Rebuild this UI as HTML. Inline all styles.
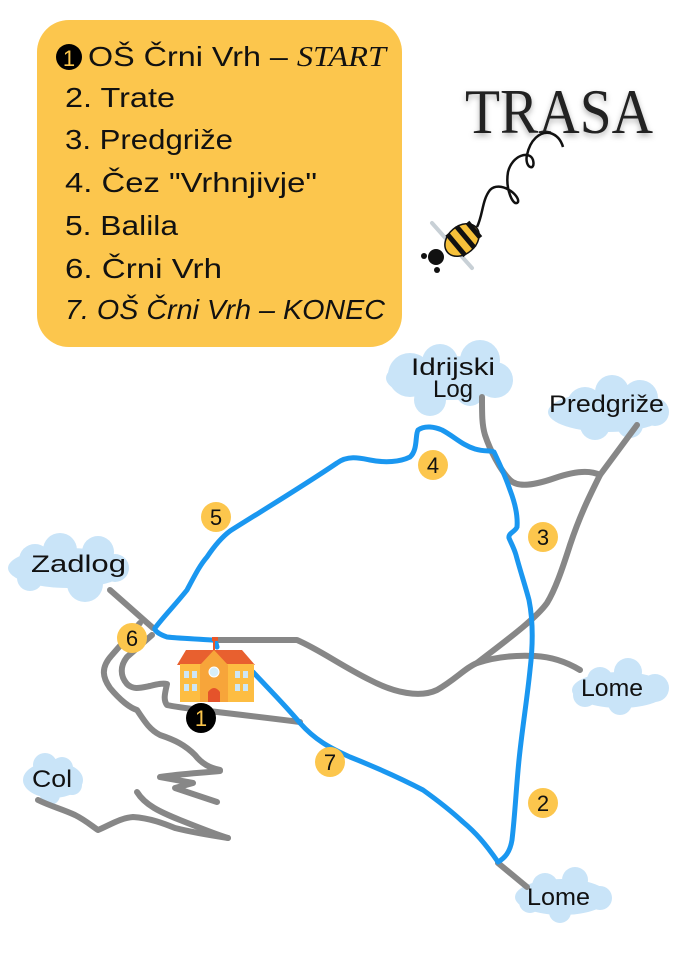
<!DOCTYPE html>
<html><head><meta charset="utf-8"><style>
html,body{margin:0;padding:0;background:#fff;}
svg{display:block;}
</style></head><body>
<svg width="675" height="954" viewBox="0 0 675 954" xmlns="http://www.w3.org/2000/svg">
<!-- legend box -->
<rect x="37" y="20" width="365" height="327" rx="32" fill="#fcc64d"/>
<circle cx="69" cy="57" r="13" fill="#000"/>
<text x="69" y="66" font-family="Liberation Sans, sans-serif" font-size="22" fill="#fcc64d" text-anchor="middle">1</text>
<g font-family="Liberation Sans, sans-serif" font-size="28" fill="#111">
<text x="88" y="66" textLength="298" lengthAdjust="spacingAndGlyphs">OŠ Črni Vrh – <tspan font-style="italic" font-family="Liberation Serif, serif">START</tspan></text>
<text x="65" y="107" textLength="110" lengthAdjust="spacingAndGlyphs">2. Trate</text>
<text x="65" y="149" textLength="168" lengthAdjust="spacingAndGlyphs">3. Predgriže</text>
<text x="65" y="192" textLength="252" lengthAdjust="spacingAndGlyphs">4. Čez "Vrhnjivje"</text>
<text x="65" y="235" textLength="113" lengthAdjust="spacingAndGlyphs">5. Balila</text>
<text x="65" y="278" textLength="157" lengthAdjust="spacingAndGlyphs">6. Črni Vrh</text>
<text x="65" y="319" textLength="320" lengthAdjust="spacingAndGlyphs" font-style="italic">7. OŠ Črni Vrh – KONEC</text>
</g>
<!-- TRASA -->
<text x="465" y="133" font-family="'Liberation Serif', serif" font-size="64" fill="#222" textLength="188" lengthAdjust="spacingAndGlyphs" style="filter:drop-shadow(0 3px 3px rgba(0,0,0,0.3))">TRASA</text>
<!-- bee -->
<path d="M477,227 C483,215 482,200 490,190 C500,180 520,195 518,202 C514,208 505,190 508,172 C512,155 530,150 533,160 C536,172 524,168 527,155 C530,140 540,131 550,133 C557,135 561,140 563,147" fill="none" stroke="#111" stroke-width="2.5"/>
<line x1="432" y1="223" x2="472" y2="268" stroke="#c8d0d6" stroke-width="4" stroke-linecap="round"/>
<g transform="translate(462,240) rotate(-40)">
<ellipse cx="0" cy="0" rx="19" ry="14" fill="#f7c13a" stroke="#111" stroke-width="1.5"/>
<rect x="-10" y="-14" width="5" height="28" fill="#111"/>
<rect x="2" y="-14" width="5" height="28" fill="#111"/>
<rect x="13" y="-10" width="5" height="20" fill="#111"/>
</g>
<circle cx="436" cy="257" r="8" fill="#111"/>
<circle cx="424" cy="256" r="3" fill="#111"/>
<circle cx="437" cy="270" r="3" fill="#111"/>
<!-- clouds -->
<g fill="#c9e4f8">
<g><ellipse cx="448" cy="378" rx="62" ry="22"/><circle cx="410" cy="375" r="22"/><circle cx="440" cy="362" r="18"/><circle cx="480" cy="360" r="20"/><circle cx="495" cy="380" r="18"/><circle cx="430" cy="400" r="16"/><circle cx="470" cy="392" r="14"/></g>
<g><ellipse cx="608" cy="412" rx="60" ry="20"/><circle cx="585" cy="405" r="18"/><circle cx="612" cy="392" r="17"/><circle cx="640" cy="398" r="18"/><circle cx="655" cy="412" r="14"/><circle cx="595" cy="425" r="15"/><circle cx="630" cy="425" r="13"/></g>
<g><ellipse cx="68" cy="568" rx="60" ry="20"/><circle cx="35" cy="560" r="16"/><circle cx="60" cy="550" r="17"/><circle cx="98" cy="552" r="16"/><circle cx="115" cy="568" r="14"/><circle cx="85" cy="584" r="18"/><circle cx="30" cy="578" r="13"/></g>
<g><ellipse cx="620" cy="690" rx="48" ry="18"/><circle cx="600" cy="680" r="13"/><circle cx="628" cy="672" r="14"/><circle cx="655" cy="688" r="14"/><circle cx="620" cy="703" r="12"/><circle cx="585" cy="695" r="12"/></g>
<g><ellipse cx="53" cy="780" rx="30" ry="18"/><circle cx="45" cy="765" r="12"/><circle cx="62" cy="768" r="11"/><circle cx="72" cy="785" r="10"/><circle cx="50" cy="795" r="10"/></g>
<g><ellipse cx="562" cy="897" rx="47" ry="18"/><circle cx="545" cy="886" r="13"/><circle cx="575" cy="880" r="13"/><circle cx="600" cy="898" r="12"/><circle cx="560" cy="912" r="11"/><circle cx="530" cy="902" r="11"/></g>
</g>
<!-- gray roads -->
<g fill="none" stroke="#878787" stroke-width="6" stroke-linecap="round" stroke-linejoin="round">
<path d="M482,397 C482,415 482,425 485,435 C490,450 500,470 510,480 C518,488 535,485 555,478 C575,471 590,470 600,475"/>
<path d="M637,425 L600,475 C590,495 580,515 570,545 C562,570 555,590 547,603 C535,620 500,645 477,663"/>
<path d="M216,640 L297,640 C320,650 340,665 370,680 C395,693 420,698 437,690 C455,680 465,668 477,663 C495,657 515,655 535,656 C555,657 570,664 580,670"/>
<path d="M110,590 L153,628"/>
<path d="M140,623 L112,655 C100,668 103,678 110,688 C120,700 130,708 137,710 C145,722 150,730 160,735 C175,740 185,745 195,755 C202,764 210,768 220,770"/>
<path d="M152,635 L127,657 C120,666 120,676 127,684 C133,690 140,688 150,686 C158,684 163,683 167,684 C165,693 163,700 167,705 C178,708 220,712 300,722"/>
<path d="M220,771 C200,773 180,774 160,777 L193,783 L175,788 L217,802"/>
<path d="M137,792 C145,805 160,812 180,820 C200,828 215,834 228,838"/>
<path d="M38,800 C50,806 62,809 75,815 C85,820 92,826 98,830 C110,825 120,818 133,817 C150,818 165,824 175,828 C195,833 215,836 228,838"/>
<path d="M498,863 L527,887"/>
</g>
<!-- blue route -->
<g fill="none" stroke="#1a97f0" stroke-width="5" stroke-linecap="round" stroke-linejoin="round">
<path d="M217,647 C216,642 214,640 213,640 C195,639 175,638 167,637 C158,634 154,630 155,628 C165,615 175,605 187,590 C195,575 200,565 207,557 C215,545 222,537 230,531 C260,512 300,488 337,463 C348,455 360,458 370,460 C385,463 400,462 410,457 C418,450 415,435 418,430 C425,425 435,427 442,430 C455,437 462,445 475,449 C485,452 490,450 494,452 C500,465 505,475 510,490 C515,503 518,515 517,527 C515,532 508,533 509,538 C511,543 514,548 516,555 C520,570 525,585 529,600 C533,620 533,645 530,670 C527,700 522,730 519,760 C516,790 515,815 512,840 C510,852 505,858 498,862 C485,843 475,832 463,822 C450,810 437,800 423,790 C400,778 375,767 350,757 C330,748 315,740 300,723 C285,705 265,685 253,672"/>
</g>
<!-- school -->
<g>
<line x1="214" y1="638" x2="214" y2="650" stroke="#e8572a" stroke-width="2"/>
<rect x="212" y="637" width="6" height="4" fill="#e8572a"/>
<polygon points="186,650 242,650 255,665 177,665" fill="#e8602f"/>
<rect x="180" y="664" width="74" height="38" fill="#fdbd42"/>
<polygon points="200,665 214,650 228,665 228,702 200,702" fill="#f7a53a"/>
<circle cx="214" cy="672" r="5" fill="#d7eef9" stroke="#fff" stroke-width="1"/>
<path d="M208,702 L208,692 Q214,684 220,692 L220,702 Z" fill="#e5532b"/>
<g fill="#cde7f5">
<rect x="184" y="671" width="5" height="7"/><rect x="192" y="671" width="5" height="7"/>
<rect x="184" y="684" width="5" height="7"/><rect x="192" y="684" width="5" height="7"/>
<rect x="235" y="671" width="5" height="7"/><rect x="243" y="671" width="5" height="7"/>
<rect x="235" y="684" width="5" height="7"/><rect x="243" y="684" width="5" height="7"/>
</g>
</g>
<!-- markers -->
<g font-family="Liberation Sans, sans-serif" font-size="22" text-anchor="middle" fill="#111">
<circle cx="433" cy="465" r="15" fill="#fcc64d"/><text x="433" y="473">4</text>
<circle cx="216" cy="517" r="15" fill="#fcc64d"/><text x="216" y="525">5</text>
<circle cx="543" cy="537" r="15" fill="#fcc64d"/><text x="543" y="545">3</text>
<circle cx="132" cy="638" r="15" fill="#fcc64d"/><text x="132" y="646">6</text>
<circle cx="330" cy="762" r="15" fill="#fcc64d"/><text x="330" y="770">7</text>
<circle cx="543" cy="803" r="15" fill="#fcc64d"/><text x="543" y="811">2</text>
<circle cx="201" cy="718" r="15" fill="#000"/><text x="201" y="726" fill="#fcc64d">1</text>
</g>
<!-- place labels -->
<g font-family="Liberation Sans, sans-serif" font-size="24" fill="#111">
<text x="453" y="375" text-anchor="middle" textLength="84" lengthAdjust="spacingAndGlyphs">Idrijski</text>
<text x="453" y="397" text-anchor="middle">Log</text>
<text x="549" y="412" textLength="115" lengthAdjust="spacingAndGlyphs">Predgriže</text>
<text x="31" y="572" textLength="95" lengthAdjust="spacingAndGlyphs">Zadlog</text>
<text x="581" y="696" textLength="62" lengthAdjust="spacingAndGlyphs">Lome</text>
<text x="32" y="787" textLength="40" lengthAdjust="spacingAndGlyphs">Col</text>
<text x="527" y="905" textLength="63" lengthAdjust="spacingAndGlyphs">Lome</text>
</g>
</svg>
</body></html>
